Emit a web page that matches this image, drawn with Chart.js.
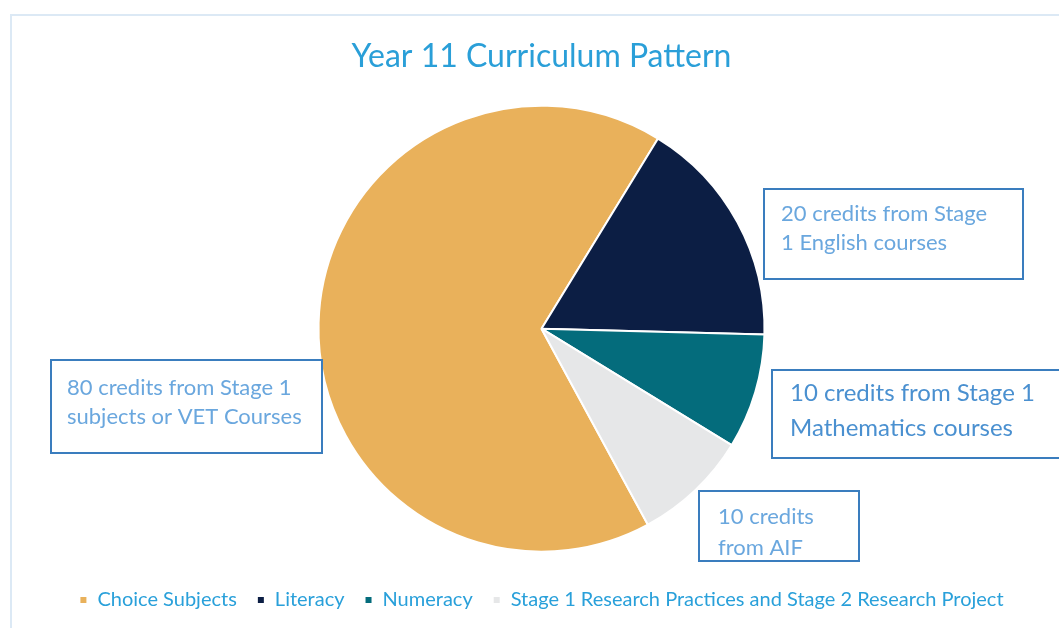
<!DOCTYPE html>
<html>
<head>
<meta charset="utf-8">
<title>Year 11 Curriculum Pattern</title>
<script src="https://cdn.jsdelivr.net/npm/chart.js@4"></script>
<style>
    html, body { margin: 0; padding: 0; background: #ffffff; }
    #wrap { width: 1059px; height: 628px; position: relative; }
</style>
</head>
<body>
<div id="wrap"><canvas id="pieChart" width="1059" height="628"></canvas></div>
<script>
// Year 11 curriculum credits
const categories = ['Choice Subjects', 'Literacy', 'Numeracy', 'Stage 1 Research Practices and Stage 2 Research Project'];
const credits = [80, 20, 10, 10];
const sliceColors = ['#E9B15B', '#0C1E44', '#046C7C', '#E6E7E8'];

// callout boxes (text + where they sit on the page)
const callouts = [
    { lines: ['20 credits from Stage', '1 English courses'], box: [764, 189, 259, 90], size: 22, color: '#6AA7DE', dx: 17, dy: 25, lh: 29 },
    { lines: ['10 credits from Stage 1', 'Mathematics courses'], box: [772, 370, 290, 88], size: 24, color: '#4A90D0', dx: 18, dy: 23, lh: 35 },
    { lines: ['10 credits', 'from AIF'], box: [699, 491, 160, 70], size: 22, color: '#6AA7DE', dx: 19, dy: 26, lh: 31 },
    { lines: ['80 credits from Stage 1', 'subjects or VET Courses'], box: [51, 360, 271, 93], size: 22, color: '#6AA7DE', dx: 16, dy: 28, lh: 29 }
];

const FONT = 'Lato, "Open Sans", sans-serif';

const framePlugin = {
    id: 'frame',
    beforeDraw(chart) {
        const ctx = chart.ctx;
        ctx.save();
        ctx.fillStyle = '#ffffff';
        ctx.fillRect(0, 0, chart.width, chart.height);
        ctx.strokeStyle = '#DCE9F5';
        ctx.lineWidth = 2;
        ctx.strokeRect(11, 15, 1100, 700);
        ctx.restore();
    }
};

const calloutPlugin = {
    id: 'callouts',
    afterDraw(chart) {
        const ctx = chart.ctx;
        ctx.save();
        callouts.forEach(c => {
            const [x, y, w, h] = c.box;
            ctx.fillStyle = '#ffffff';
            ctx.fillRect(x, y, w, h);
            ctx.strokeStyle = '#3A7DBE';
            ctx.lineWidth = 2;
            ctx.strokeRect(x, y, w, h);
            ctx.fillStyle = c.color;
            ctx.font = c.size + 'px ' + FONT;
            ctx.textBaseline = 'middle';
            c.lines.forEach((t, i) => {
                ctx.fillText(t, x + c.dx, y + c.dy + i * c.lh);
            });
        });
        ctx.restore();
    }
};

new Chart(document.getElementById('pieChart'), {
    type: 'pie',
    data: {
        labels: categories,
        datasets: [{
            data: credits,
            backgroundColor: sliceColors,
            borderColor: '#ffffff',
            borderWidth: 2
        }]
    },
    options: {
        responsive: false,
        animation: false,
        rotation: 151.5,
        radius: 223,
        layout: { padding: { top: 26, bottom: 8, left: 24, right: 0 } },
        plugins: {
            title: {
                display: true,
                text: 'Year 11 Curriculum Pattern',
                color: '#2A9FD8',
                font: { family: FONT, size: 32, weight: 'normal' },
                padding: { top: 11, bottom: 12 }
            },
            legend: {
                position: 'bottom',
                labels: {
                    color: '#29A0DA',
                    font: { family: FONT, size: 20 },
                    boxWidth: 8,
                    boxHeight: 8,
                    padding: 20
                }
            },
            tooltip: { enabled: false }
        }
    },
    plugins: [framePlugin, calloutPlugin]
});
</script>
</body>
</html>
